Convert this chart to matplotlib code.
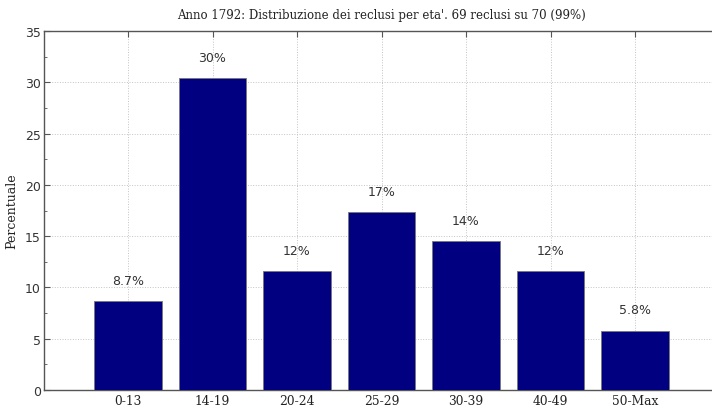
import numpy as np
import matplotlib
matplotlib.use("Agg")
import matplotlib.pyplot as plt
from matplotlib.ticker import MultipleLocator

# dati
fasce = ["0-13", "14-19", "20-24", "25-29", "30-39", "40-49", "50-Max"]
percentuali = [8.7, 30.4, 11.6, 17.4, 14.5, 11.6, 5.8]
etichette = ["8.7%", "30%", "12%", "17%", "14%", "12%", "5.8%"]

titolo = "Anno 1792: Distribuzione dei reclusi per eta'. 69 reclusi su 70 (99%)"

serif = ["DejaVu Serif"]
sans = ["DejaVu Sans"]
grigio = "#555555"

fig = plt.figure(figsize=(7.12, 4.10), dpi=100)
ax = fig.add_axes([43.5 / 712, 19 / 410, 676 / 712, 359 / 410])

x = np.arange(len(fasce))
ax.bar(x, percentuali, width=0.8, color="#000080",
       edgecolor="#777777", linewidth=0.6, zorder=3)

for xi, v, lab in zip(x, percentuali, etichette):
    ax.text(xi, v + 2.0, lab, ha="center", va="center",
            fontsize=9, family=sans, color="#333333", zorder=4)

ax.set_xlim(-1, 7)
ax.set_ylim(0, 35)
ax.set_xticks(x)
ax.set_xticklabels(fasce, family=serif, fontsize=8.8, color="#222222")
ax.yaxis.set_major_locator(MultipleLocator(5))
ax.yaxis.set_minor_locator(MultipleLocator(2.5))
for t in ax.get_yticklabels():
    t.set_family(sans)
    t.set_fontsize(9)
    t.set_color("#333333")

ax.tick_params(axis="both", which="both", direction="in",
               color=grigio, top=True, right=False)
ax.tick_params(axis="y", which="major", length=4, pad=2)
ax.tick_params(axis="y", which="minor", length=2)
ax.tick_params(axis="x", length=4, pad=3)

ax.grid(True, which="major", linestyle=":", color="#c4c4c4",
        linewidth=0.7, zorder=0)

for s in ("left", "bottom", "top"):
    ax.spines[s].set_color(grigio)
    ax.spines[s].set_linewidth(1.0)
ax.spines["right"].set_visible(False)

ax.set_ylabel("Percentuale", family=serif, fontsize=9, color="#222222",
              labelpad=5)
ax.set_title(titolo, family=serif, fontsize=8.5, color="#222222", pad=9)

fig.savefig("out.png", dpi=100)
